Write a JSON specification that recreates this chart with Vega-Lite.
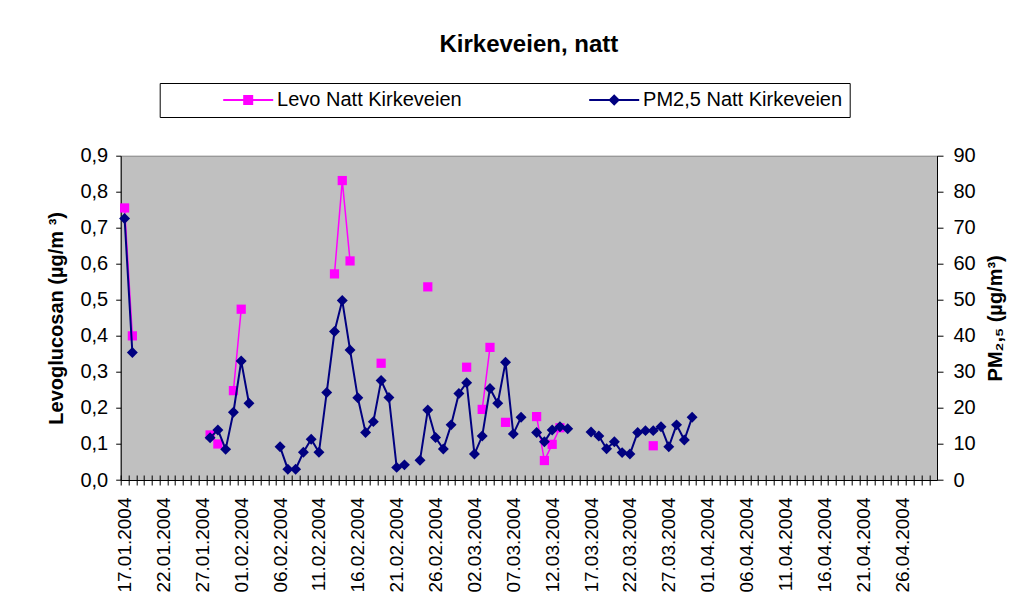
{
  "$schema": "https://vega.github.io/schema/vega-lite/v6.json",
  "width": 816.3,
  "height": 324.3,
  "autosize": "none",
  "padding": {"left": 120.7, "top": 155.7, "right": 96, "bottom": 130},
  "background": "white",
  "title": {"text": "Kirkeveien, natt", "fontSize": 24, "fontWeight": "bold", "font": "Liberation Sans", "color": "black", "anchor": "middle", "frame": "group", "offset": 26},
  "config": {
    "view": {"fill": "#C0C0C0", "stroke": "#808080", "strokeWidth": 1},
    "font": "Liberation Sans"
  },
  "data": {"values": [
    {"date": "2004-01-17", "levo": 0.755, "pm": 72.6},
    {"date": "2004-01-18", "levo": 0.40, "pm": 35.4},
    {"date": "2004-01-19", "levo": null, "pm": null},
    {"date": "2004-01-20", "levo": null, "pm": null},
    {"date": "2004-01-21", "levo": null, "pm": null},
    {"date": "2004-01-22", "levo": null, "pm": null},
    {"date": "2004-01-23", "levo": null, "pm": null},
    {"date": "2004-01-24", "levo": null, "pm": null},
    {"date": "2004-01-25", "levo": null, "pm": null},
    {"date": "2004-01-26", "levo": null, "pm": null},
    {"date": "2004-01-27", "levo": null, "pm": null},
    {"date": "2004-01-28", "levo": 0.125, "pm": 11.7},
    {"date": "2004-01-29", "levo": 0.10, "pm": 13.9},
    {"date": "2004-01-30", "levo": null, "pm": 8.5},
    {"date": "2004-01-31", "levo": 0.248, "pm": 18.8},
    {"date": "2004-02-01", "levo": 0.474, "pm": 33.0},
    {"date": "2004-02-02", "levo": null, "pm": 21.3},
    {"date": "2004-02-03", "levo": null, "pm": null},
    {"date": "2004-02-04", "levo": null, "pm": null},
    {"date": "2004-02-05", "levo": null, "pm": null},
    {"date": "2004-02-06", "levo": null, "pm": 9.2},
    {"date": "2004-02-07", "levo": null, "pm": 3.0},
    {"date": "2004-02-08", "levo": null, "pm": 3.0},
    {"date": "2004-02-09", "levo": null, "pm": 7.7},
    {"date": "2004-02-10", "levo": null, "pm": 11.3},
    {"date": "2004-02-11", "levo": null, "pm": 7.7},
    {"date": "2004-02-12", "levo": null, "pm": 24.3},
    {"date": "2004-02-13", "levo": 0.572, "pm": 41.2},
    {"date": "2004-02-14", "levo": 0.831, "pm": 49.8},
    {"date": "2004-02-15", "levo": 0.608, "pm": 36.1},
    {"date": "2004-02-16", "levo": null, "pm": 22.8},
    {"date": "2004-02-17", "levo": null, "pm": 13.2},
    {"date": "2004-02-18", "levo": null, "pm": 16.2},
    {"date": "2004-02-19", "levo": 0.324, "pm": 27.6},
    {"date": "2004-02-20", "levo": null, "pm": 22.9},
    {"date": "2004-02-21", "levo": null, "pm": 3.5},
    {"date": "2004-02-22", "levo": null, "pm": 4.2},
    {"date": "2004-02-23", "levo": null, "pm": null},
    {"date": "2004-02-24", "levo": null, "pm": 5.5},
    {"date": "2004-02-25", "levo": 0.536, "pm": 19.4},
    {"date": "2004-02-26", "levo": null, "pm": 11.8},
    {"date": "2004-02-27", "levo": null, "pm": 8.6},
    {"date": "2004-02-28", "levo": null, "pm": 15.3},
    {"date": "2004-02-29", "levo": null, "pm": 24.0},
    {"date": "2004-03-01", "levo": 0.313, "pm": 27.0},
    {"date": "2004-03-02", "levo": null, "pm": 7.2},
    {"date": "2004-03-03", "levo": 0.196, "pm": 12.2},
    {"date": "2004-03-04", "levo": 0.368, "pm": 25.4},
    {"date": "2004-03-05", "levo": null, "pm": 21.3},
    {"date": "2004-03-06", "levo": 0.160, "pm": 32.7},
    {"date": "2004-03-07", "levo": null, "pm": 12.8},
    {"date": "2004-03-08", "levo": null, "pm": 17.4},
    {"date": "2004-03-09", "levo": null, "pm": null},
    {"date": "2004-03-10", "levo": 0.176, "pm": 13.2},
    {"date": "2004-03-11", "levo": 0.054, "pm": 10.6},
    {"date": "2004-03-12", "levo": 0.099, "pm": 13.9},
    {"date": "2004-03-13", "levo": 0.145, "pm": 14.8},
    {"date": "2004-03-14", "levo": null, "pm": 14.2},
    {"date": "2004-03-15", "levo": null, "pm": null},
    {"date": "2004-03-16", "levo": null, "pm": null},
    {"date": "2004-03-17", "levo": null, "pm": 13.3},
    {"date": "2004-03-18", "levo": null, "pm": 12.2},
    {"date": "2004-03-19", "levo": null, "pm": 8.7},
    {"date": "2004-03-20", "levo": null, "pm": 10.6},
    {"date": "2004-03-21", "levo": null, "pm": 7.6},
    {"date": "2004-03-22", "levo": null, "pm": 7.2},
    {"date": "2004-03-23", "levo": null, "pm": 13.2},
    {"date": "2004-03-24", "levo": null, "pm": 13.7},
    {"date": "2004-03-25", "levo": 0.095, "pm": 13.7},
    {"date": "2004-03-26", "levo": null, "pm": 14.8},
    {"date": "2004-03-27", "levo": null, "pm": 9.2},
    {"date": "2004-03-28", "levo": null, "pm": 15.3},
    {"date": "2004-03-29", "levo": null, "pm": 11.1},
    {"date": "2004-03-30", "levo": null, "pm": 17.4}
  ]},
  "encoding": {
    "color": {"field": "series", "type": "nominal",
      "scale": {"domain": ["Levo Natt Kirkeveien", "PM2,5 Natt Kirkeveien"], "range": ["#FF00FF", "#000080"]},
      "legend": {
        "title": null, "orient": "none", "legendX": 39, "legendY": -72.7,
        "direction": "horizontal", "columns": 2,
        "padding": 7, "strokeColor": "#000000", "fillColor": "#FFFFFF",
        "labelFontSize": 20, "labelFont": "Liberation Sans", "labelColor": "black", "labelLimit": 600,
        "symbolSize": 100, "symbolOffset": 71.5, "labelOffset": 18.9, "columnPadding": 71,
        "encode": {"symbols": {"update": {
          "shape": {"signal": "datum.value == 'Levo Natt Kirkeveien' ? 'M-5,-0.2H5V0.2H-5Z M-1,-1H1V1H-1Z' : 'M-5,-0.2H5V0.2H-5Z M0,-1.15L1.15,0L0,1.15L-1.15,0Z'"},
          "fill": {"signal": "datum.value == 'Levo Natt Kirkeveien' ? '#FF00FF' : '#000080'"},
          "stroke": {"value": "transparent"},
          "strokeWidth": {"value": 0},
          "opacity": {"value": 1}
        }}}
      }
    }
  },
  "layer": [
    {
      "transform": [{"calculate": "'Levo Natt Kirkeveien'", "as": "series"}],
      "encoding": {
        "x": {
          "field": "date", "type": "temporal",
          "scale": {"type": "utc", "domain": [{"year": 2004, "month": 1, "date": 16, "hours": 12, "utc": true}, {"year": 2004, "month": 4, "date": 30, "hours": 12, "utc": true}], "nice": false},
          "axis": {
            "orient": "bottom", "title": null, "grid": false,
            "tickCount": {"interval": "day", "step": 1},
            "labelExpr": "round((datum.value - utc(2004,0,17))/86400000) % 5 == 0 ? utcFormat(datum.value, '%d.%m.%Y') : ''",
            "labelAngle": 270, "labelFontSize": 19, "labelColor": "black", "labelFont": "Liberation Sans",
            "labelPadding": 12, "labelOverlap": false, "labelBound": false, "labelFlush": false,
            "tickOffset": -3.887, "labelOffset": 3.887,
            "tickSize": 5, "tickColor": "black", "tickWidth": 1,
            "domainColor": "black", "domainWidth": 1
          }
        },
        "y": {"field": "levo", "type": "quantitative",
          "scale": {"domain": [0, 0.9], "nice": false},
          "axis": {"title": "Levoglucosan (µg/m   ³)", "titleFontSize": 20, "titleFontWeight": "bold", "titleFont": "Liberation Sans", "titleColor": "black", "titlePadding": 13,
            "values": [0, 0.1, 0.2, 0.3, 0.4, 0.5, 0.6, 0.7, 0.8, 0.9],
            "labelExpr": "replace(format(datum.value, '.1f'), '.', ',')",
            "labelFontSize": 20, "labelColor": "black", "labelPadding": 8, "labelOverlap": false,
            "tickSize": 5, "tickColor": "black", "domainColor": "black", "grid": false}}
      },
      "layer": [
        {"mark": {"type": "line", "strokeWidth": 1.5}},
        {
          "transform": [{"filter": "isValid(datum.levo)"}],
          "mark": {"type": "point", "shape": "square", "filled": true, "size": 85, "opacity": 1}
        }
      ]
    },
    {
      "transform": [{"calculate": "'PM2,5 Natt Kirkeveien'", "as": "series"}],
      "encoding": {
        "x": {
          "field": "date", "type": "temporal",
          "axis": {
            "orient": "bottom", "title": null, "grid": false, "labels": false, "domain": false,
            "tickCount": {"interval": "day", "step": 1},
            "tickOffset": -3.887,
            "tickSize": -5, "tickColor": "black", "tickWidth": 1
          }
        },
        "y": {"field": "pm", "type": "quantitative",
          "scale": {"domain": [0, 90], "nice": false},
          "axis": {"orient": "right", "title": "PM₂,₅ (µg/m³)", "titleFontSize": 20, "titleFontWeight": "bold", "titleFont": "Liberation Sans", "titleColor": "black", "titlePadding": 10, "titleAngle": 270, "titleBaseline": "top",
            "values": [0, 10, 20, 30, 40, 50, 60, 70, 80, 90], "format": "d",
            "labelFontSize": 20, "labelColor": "black", "labelPadding": 10, "labelOverlap": false,
            "tickSize": 6, "tickColor": "black", "domainColor": "black", "grid": false}}
      },
      "layer": [
        {"mark": {"type": "line", "strokeWidth": 2}},
        {
          "transform": [{"filter": "isValid(datum.pm)"}],
          "mark": {"type": "point", "shape": "diamond", "filled": true, "size": 120, "opacity": 1}
        }
      ]
    }
  ],
  "resolve": {"scale": {"y": "independent"}, "axis": {"y": "independent", "x": "independent"}}
}
